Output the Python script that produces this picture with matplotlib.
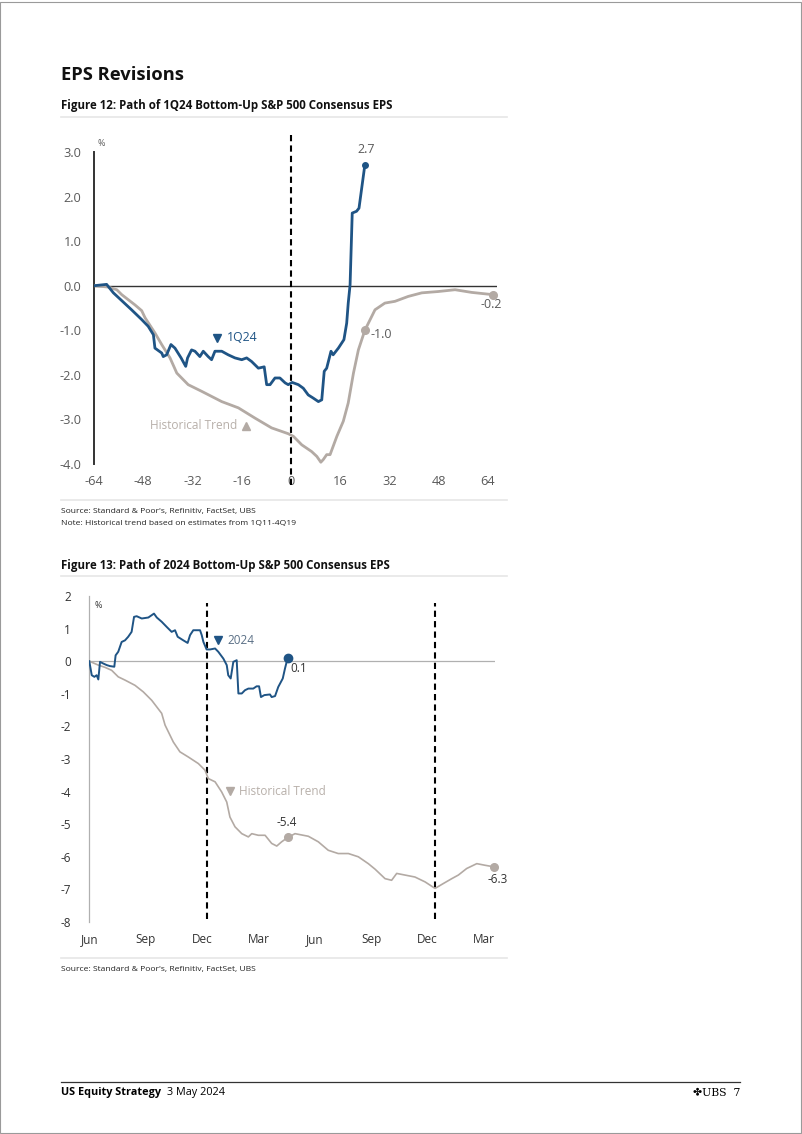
import matplotlib
matplotlib.use('Agg')
import matplotlib.pyplot as plt
from matplotlib.lines import Line2D
from matplotlib.patches import Rectangle

plt.rcParams['font.family'] = ['Open Sans', 'DejaVu Sans']

BLUE = '#1f5485'
GREY = '#b3aaa4'
GREY_TXT = '#b8b0aa'
TICK = '#5a5a5a'

# ---- Figure 12: 1Q24 path (weeks relative to quarter start) ----
q_weeks = [-64, -59.9, -57.7, -51.8, -48.5, -46.4, -44.7, -44.2, -42, -41.5, -40.4, -39, -37.7,
           -35.7, -34.2, -33.6, -32.3, -31.2, -29.6, -28.5, -26.9, -25.8, -24.7, -22.5, -20.4,
           -18.2, -16, -14.4, -12.8, -10.6, -8.7, -7.9, -6.8, -5.2, -3.6, -1.9, -0.9, 0.4, 2.4,
           4.0, 5.6, 7.2, 8.9, 10.0, 10.8, 11.6, 13.0, 13.7, 15.4, 17.2, 18.1, 18.6, 19.2, 19.9,
           21.3, 22.1, 24.0]
q_1q24 = [0.0, 0.03, -0.16, -0.54, -0.76, -0.91, -1.10, -1.40, -1.51, -1.59, -1.55, -1.32, -1.40,
          -1.62, -1.81, -1.62, -1.44, -1.47, -1.59, -1.47, -1.59, -1.66, -1.47, -1.47, -1.55,
          -1.62, -1.66, -1.62, -1.70, -1.85, -1.82, -2.22, -2.22, -2.07, -2.07, -2.18, -2.22,
          -2.17, -2.22, -2.30, -2.45, -2.52, -2.60, -2.56, -1.92, -1.85, -1.47, -1.55, -1.40,
          -1.21, -0.84, -0.39, 0.02, 1.63, 1.67, 1.74, 2.71]

h_weeks = [-64, -59.4, -56.6, -55, -50.7, -48.5, -47.4, -44.2, -42, -39.3, -37.1, -33.4, -29,
           -22.5, -17.1, -11.7, -6.3, -0.9, 0.8, 3.5, 6.7, 8.4, 9.7, 10.5, 11.6, 12.7, 14.9, 17,
           18.6, 20.3, 21.9, 24.0, 27.3, 30.5, 33.8, 38.1, 42.5, 47.9, 53.3, 58.7, 65.5]
h_trend = [0.0, -0.03, -0.09, -0.2, -0.43, -0.56, -0.72, -1.06, -1.32, -1.62, -1.96, -2.22, -2.37,
           -2.60, -2.74, -2.97, -3.19, -3.32, -3.38, -3.57, -3.72, -3.83, -3.96, -3.90, -3.79,
           -3.79, -3.38, -3.04, -2.63, -1.96, -1.44, -1.0, -0.54, -0.39, -0.35, -0.24, -0.16,
           -0.13, -0.09, -0.15, -0.2]

top_yticks = [3, 2, 1, 0, -1, -2, -3, -4]
top_xticks = [-64, -48, -32, -16, 0, 16, 32, 48, 64]

# ---- Figure 13: 2024 path (months since June of prior-prior year) ----
m_2024 = [0, 0.13, 0.27, 0.39, 0.48, 0.57, 0.74, 0.93, 1.1, 1.33, 1.4, 1.54, 1.72, 1.9, 2.07, 2.25,
          2.38, 2.52, 2.79, 3.14, 3.44, 3.59, 3.85, 4.12, 4.38, 4.56, 4.70, 5.0, 5.23, 5.36, 5.53,
          5.89, 5.98, 6.07, 6.24, 6.42, 6.69, 6.86, 7.13, 7.31, 7.39, 7.52, 7.66, 7.84, 7.93, 8.11,
          8.28, 8.46, 8.72, 8.90, 9.03, 9.13, 9.31, 9.61, 9.70, 9.88, 10.05, 10.29, 10.41, 10.55]
v_2024 = [0, -0.43, -0.48, -0.43, -0.56, -0.02, -0.07, -0.12, -0.15, -0.17, 0.18, 0.29, 0.59, 0.64,
          0.75, 0.90, 1.36, 1.38, 1.31, 1.34, 1.46, 1.34, 1.21, 1.05, 0.90, 0.95, 0.75, 0.64, 0.56,
          0.80, 0.95, 0.95, 0.80, 0.59, 0.36, 0.36, 0.39, 0.29, 0.08, -0.12, -0.43, -0.53, -0.02,
          0.03, -0.99, -0.99, -0.89, -0.84, -0.84, -0.77, -0.77, -1.10, -1.04, -1.02, -1.10, -1.07,
          -0.79, -0.53, -0.22, 0.10]

m_hist = [0, 0.48, 0.84, 1.19, 1.54, 1.9, 2.43, 2.87, 3.32, 3.85, 4.03, 4.47, 4.82, 5.27, 5.80,
          6.15, 6.33, 6.69, 7.04, 7.31, 7.48, 7.75, 8.11, 8.46, 8.64, 8.99, 9.35, 9.70, 9.97,
          10.23, 10.55, 10.94, 11.65, 12.18, 12.71, 13.24, 13.78, 14.31, 14.84, 15.2, 15.73,
          16.08, 16.35, 16.79, 17.32, 17.86, 18.39, 18.83, 19.28, 19.63, 20.07, 20.61, 21.05, 21.54]
v_hist = [0, -0.12, -0.19, -0.28, -0.48, -0.58, -0.74, -0.94, -1.20, -1.60, -1.96, -2.48, -2.78,
          -2.94, -3.14, -3.34, -3.60, -3.70, -4.01, -4.32, -4.78, -5.08, -5.29, -5.39, -5.29,
          -5.34, -5.34, -5.59, -5.67, -5.54, -5.41, -5.29, -5.37, -5.54, -5.80, -5.90, -5.90,
          -6.00, -6.21, -6.38, -6.67, -6.72, -6.51, -6.56, -6.62, -6.77, -6.97, -6.82, -6.67,
          -6.56, -6.36, -6.21, -6.26, -6.31]

bot_yticks = [2, 1, 0, -1, -2, -3, -4, -5, -6, -7, -8]
month_ticks = [0, 3, 6, 9, 12, 15, 18, 21]
month_labels = ['Jun', 'Sep', 'Dec', 'Mar', 'Jun', 'Sep', 'Dec', 'Mar']
year_ends = [6.25, 18.4]

W, H = 802, 1134
fig = plt.figure(figsize=(W / 100, H / 100), dpi=100)

def fx(px):
    return px / W

def fy(py):
    return 1 - py / H

# page frame
fig.patches.append(Rectangle((0.0005, 0.0005), 0.998, 0.998, transform=fig.transFigure,
                             fill=False, ec='#9a9a9a', lw=0.8))

# headings
fig.text(fx(61), fy(75), 'EPS Revisions', fontsize=13.2, fontweight='bold', va='center', color='#111')
fig.text(fx(61), fy(106), 'Figure 12: Path of 1Q24 Bottom-Up S&P 500 Consensus EPS',
         fontsize=8.3, fontweight='bold', va='center', color='#111')
fig.text(fx(61), fy(565), 'Figure 13: Path of 2024 Bottom-Up S&P 500 Consensus EPS',
         fontsize=8.3, fontweight='bold', va='center', color='#111')
for y in (117, 500, 576, 958):
    fig.add_artist(Line2D([fx(61), fx(507)], [fy(y), fy(y)], color='#e6e6e6', lw=1.2))
fig.text(fx(61), fy(511), "Source: Standard & Poor's, Refinitiv, FactSet, UBS", fontsize=6.1,
         va='center', color='#222')
fig.text(fx(61), fy(523), 'Note: Historical trend based on estimates from 1Q11-4Q19', fontsize=6.1,
         va='center', color='#222')
fig.text(fx(61), fy(969), "Source: Standard & Poor's, Refinitiv, FactSet, UBS", fontsize=6.1,
         va='center', color='#222')

# footer
fig.add_artist(Line2D([fx(61), fx(740)], [fy(1082), fy(1082)], color='#333', lw=0.9))
fig.text(fx(61), fy(1093), 'US Equity Strategy', fontsize=7.8, fontweight='bold', va='center')
fig.text(fx(167), fy(1093), '3 May 2024', fontsize=7.8, va='center')
fig.text(fx(740), fy(1093), '\u2724UBS  7', fontsize=7.8, va='center', ha='right',
         family=['DejaVu Serif', 'DejaVu Sans'])

# ---------------- top chart ----------------
ax1 = fig.add_axes([fx(94), fy(464), fx(497.2) - fx(94), fy(152) - fy(464)])
ax1.set_xlim(-64, 67)
ax1.set_ylim(-4, 3)
for s in ('top', 'right', 'bottom'):
    ax1.spines[s].set_visible(False)
ax1.spines['left'].set_color('#333')
ax1.spines['left'].set_linewidth(1.4)
ax1.axhline(0, color='#333', lw=1.0, zorder=1)
ax1.plot([0, 0], [-4.47, 3.38], color='black', lw=1.5, dashes=(3.0, 2.0), clip_on=False, zorder=2)
ax1.plot(h_weeks, h_trend, color=GREY, lw=2.0, zorder=3, solid_joinstyle='round')
ax1.plot(q_weeks, q_1q24, color=BLUE, lw=2.0, zorder=4, solid_joinstyle='round')
ax1.plot(q_weeks[-1], q_1q24[-1], 'o', color=BLUE, ms=4, zorder=5)
ax1.plot([24.0, h_weeks[-1]], [-1.0, h_trend[-1]], 'o', color=GREY, ms=5.5, zorder=5, clip_on=False)
ax1.set_yticks(top_yticks)
ax1.set_yticklabels([f'{v:.1f}' for v in top_yticks])
ax1.set_xticks(top_xticks)
ax1.set_xticklabels([str(v) for v in top_xticks])
ax1.tick_params(length=0, colors=TICK, labelsize=9.2)
ax1.tick_params(axis='y', pad=9)
ax1.tick_params(axis='x', pad=8)
ax1.text(-62.8, 3.2, '%', fontsize=6.5, color=TICK, va='center')
ax1.text(24.4, 3.05, '2.7', fontsize=9, color=TICK, ha='center', va='center')
ax1.text(25.7, -1.1, '-1.0', fontsize=9, color=TICK, ha='left', va='center')
ax1.text(65.0, -0.28, '-0.2', fontsize=9, color=TICK, ha='center', va='top')
ax1.plot(-24.0, -1.17, 'v', color=BLUE, ms=6, zorder=5)
ax1.text(-20.8, -1.17, '1Q24', fontsize=8.8, color=BLUE, va='center')
ax1.plot(-14.6, -3.14, '^', color=GREY, ms=6, zorder=5)
ax1.text(-17.6, -3.14, 'Historical Trend', fontsize=8.6, color=GREY_TXT, va='center', ha='right')

# ---------------- bottom chart ----------------
ax2 = fig.add_axes([fx(89.3), fy(922), fx(495.4) - fx(89.3), fy(596) - fy(922)])
ax2.set_xlim(0, 21.6)
ax2.set_ylim(-8, 2)
for s in ('top', 'right', 'bottom'):
    ax2.spines[s].set_visible(False)
ax2.spines['left'].set_color('#b0b0b0')
ax2.spines['left'].set_linewidth(0.9)
ax2.axhline(0, color='#b0b0b0', lw=0.9, zorder=1)
for xe in year_ends:
    ax2.plot([xe, xe], [-7.9, 1.8], color='black', lw=1.5, dashes=(3.0, 2.0), zorder=2)
ax2.plot(m_hist, v_hist, color=GREY, lw=1.2, zorder=3)
ax2.plot(m_2024, v_2024, color=BLUE, lw=1.4, zorder=4)
ax2.plot(m_2024[-1], v_2024[-1], 'o', color=BLUE, ms=6, zorder=5)
ax2.plot([10.55, m_hist[-1]], [-5.4, v_hist[-1]], 'o', color=GREY, ms=5.5, zorder=5,
         clip_on=False)
ax2.set_yticks(bot_yticks)
ax2.set_yticklabels([str(v) for v in bot_yticks])
ax2.set_xticks(month_ticks)
ax2.set_xticklabels(month_labels)
ax2.tick_params(length=0, colors='#333', labelsize=8.5)
ax2.tick_params(axis='y', pad=13)
ax2.tick_params(axis='x', pad=8)
ax2.text(0.3, 1.72, '%', fontsize=6.5, color='#333', va='center')
ax2.text(10.72, -0.22, '0.1', fontsize=8.5, color='#333', va='center')
ax2.text(10.5, -4.94, '-5.4', fontsize=8.5, color='#333', ha='center', va='center')
ax2.text(21.74, -6.69, '-6.3', fontsize=8.5, color='#333', ha='center', va='center')
ax2.plot(6.85, 0.64, 'v', color=BLUE, ms=6, zorder=5)
ax2.text(7.35, 0.64, '2024', fontsize=8.5, color='#5a6f85', va='center')
ax2.plot(7.48, -3.99, 'v', color=GREY, ms=6, zorder=5)
ax2.text(7.96, -3.99, 'Historical Trend', fontsize=8.5, color=GREY_TXT, va='center')

fig.savefig('out.png', dpi=100)
